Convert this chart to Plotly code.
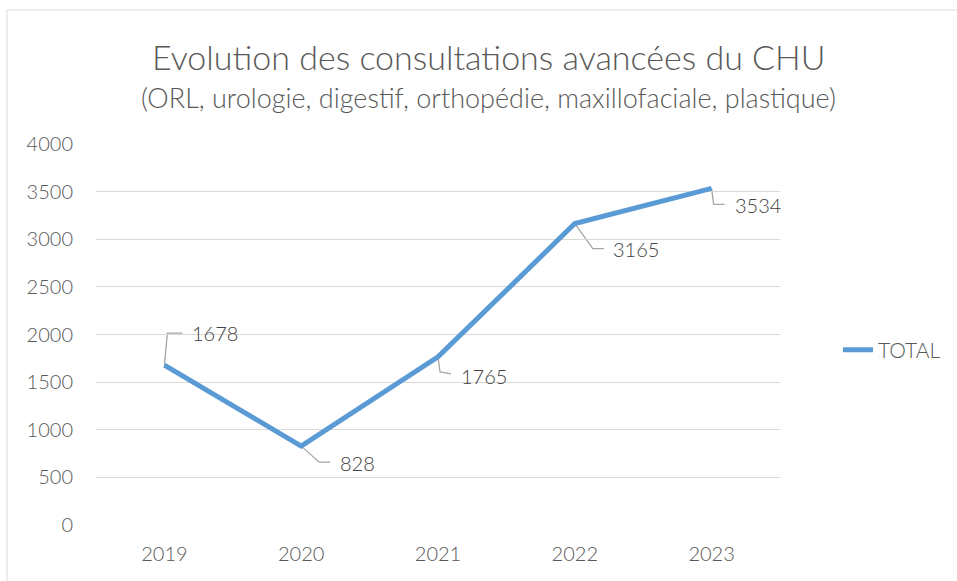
import plotly.graph_objects as go

years = ["2019", "2020", "2021", "2022", "2023"]
total = [1678, 828, 1765, 3165, 3534]
series_name = "TOTAL"
y_ticks = [0, 500, 1000, 1500, 2000, 2500, 3000, 3500, 4000]

# label leader offsets (pixels): path from point, text position
label_offsets = [
    {"path": "M0,0 L3,32 L18,32", "tx": 26, "ty": 32},
    {"path": "M0,0 L18,-16 L29,-16", "tx": 37, "ty": -17},
    {"path": "M0,0 L2,-15 L13,-17", "tx": 21, "ty": -19},
    {"path": "M0,0 L18,-25 L29,-25", "tx": 36, "ty": -25},
    {"path": "M0,0 L2,-16 L13,-16", "tx": 21, "ty": -17},
]

FONT = "Lato"
GREY = "#595959"
W, H = 957, 581
L, R, T, B = 96, 177, 144, 56
pw = W - L - R
ph = H - T - B

fig = go.Figure()
fig.add_trace(go.Scatter(
    x=years, y=total, mode="lines", name=series_name,
    line=dict(color="#5B9BD5", width=5),
))

shapes = []
annotations = []
for i, (yv, off) in enumerate(zip(total, label_offsets)):
    shapes.append(dict(
        type="path", xref="x", yref="y", xsizemode="pixel", ysizemode="pixel",
        xanchor=i, yanchor=yv, path=off["path"],
        line=dict(color="#a6a6a6", width=1.3), layer="below",
    ))
    annotations.append(dict(
        x=i, y=yv, xref="x", yref="y", text=str(yv), showarrow=False,
        xanchor="left", yanchor="middle", xshift=off["tx"], yshift=off["ty"],
        font=dict(family=FONT, size=20, color="#404040", weight=300),
    ))

# chart border (left & top visible)
shapes.append(dict(
    type="rect", xref="paper", yref="paper",
    x0=(7 - L) / pw, x1=2, y0=-1, y1=1 + (T - 10) / ph,
    line=dict(color="#d9d9d9", width=1), layer="below",
))

annotations.append(dict(
    x=(488 - L) / pw, y=1 + (T - 57) / ph, xref="paper", yref="paper",
    text="Evolution des consultations avancées du CHU", showarrow=False,
    xanchor="center", yanchor="middle",
    font=dict(family=FONT, size=34, color=GREY, weight=300),
))
annotations.append(dict(
    x=(488 - L) / pw, y=1 + (T - 97) / ph, xref="paper", yref="paper",
    text="(ORL, urologie, digestif, orthopédie, maxillofaciale, plastique)",
    showarrow=False, xanchor="center", yanchor="middle",
    font=dict(family=FONT, size=27, color=GREY, weight=300),
))

fig.update_layout(
    width=W, height=H,
    margin=dict(l=L, r=R, t=T, b=B, autoexpand=False),
    paper_bgcolor="white", plot_bgcolor="white",
    showlegend=True,
    legend=dict(x=(838 - L) / pw, y=1 - (350 - T) / ph, xanchor="left", yanchor="middle",
                font=dict(family=FONT, size=21, color=GREY, weight=300),
                bgcolor="rgba(0,0,0,0)"),
    shapes=shapes, annotations=annotations,
    xaxis=dict(type="category", range=[-0.5, 4.5], showgrid=False, showline=False,
               zeroline=False, ticks="",
               tickfont=dict(family=FONT, size=20, color=GREY, weight=300),
               ticklabelstandoff=15),
    yaxis=dict(range=[0, 4000], tickvals=y_ticks, showgrid=True, gridcolor="#d9d9d9",
               gridwidth=1.3, zeroline=False, showline=False, ticks="",
               tickfont=dict(family=FONT, size=20, color=GREY, weight=300),
               ticklabelstandoff=22),
)

fig.write_html("out.html", config={"displayModeBar": False},
               post_script="document.body.style.margin='0';")
